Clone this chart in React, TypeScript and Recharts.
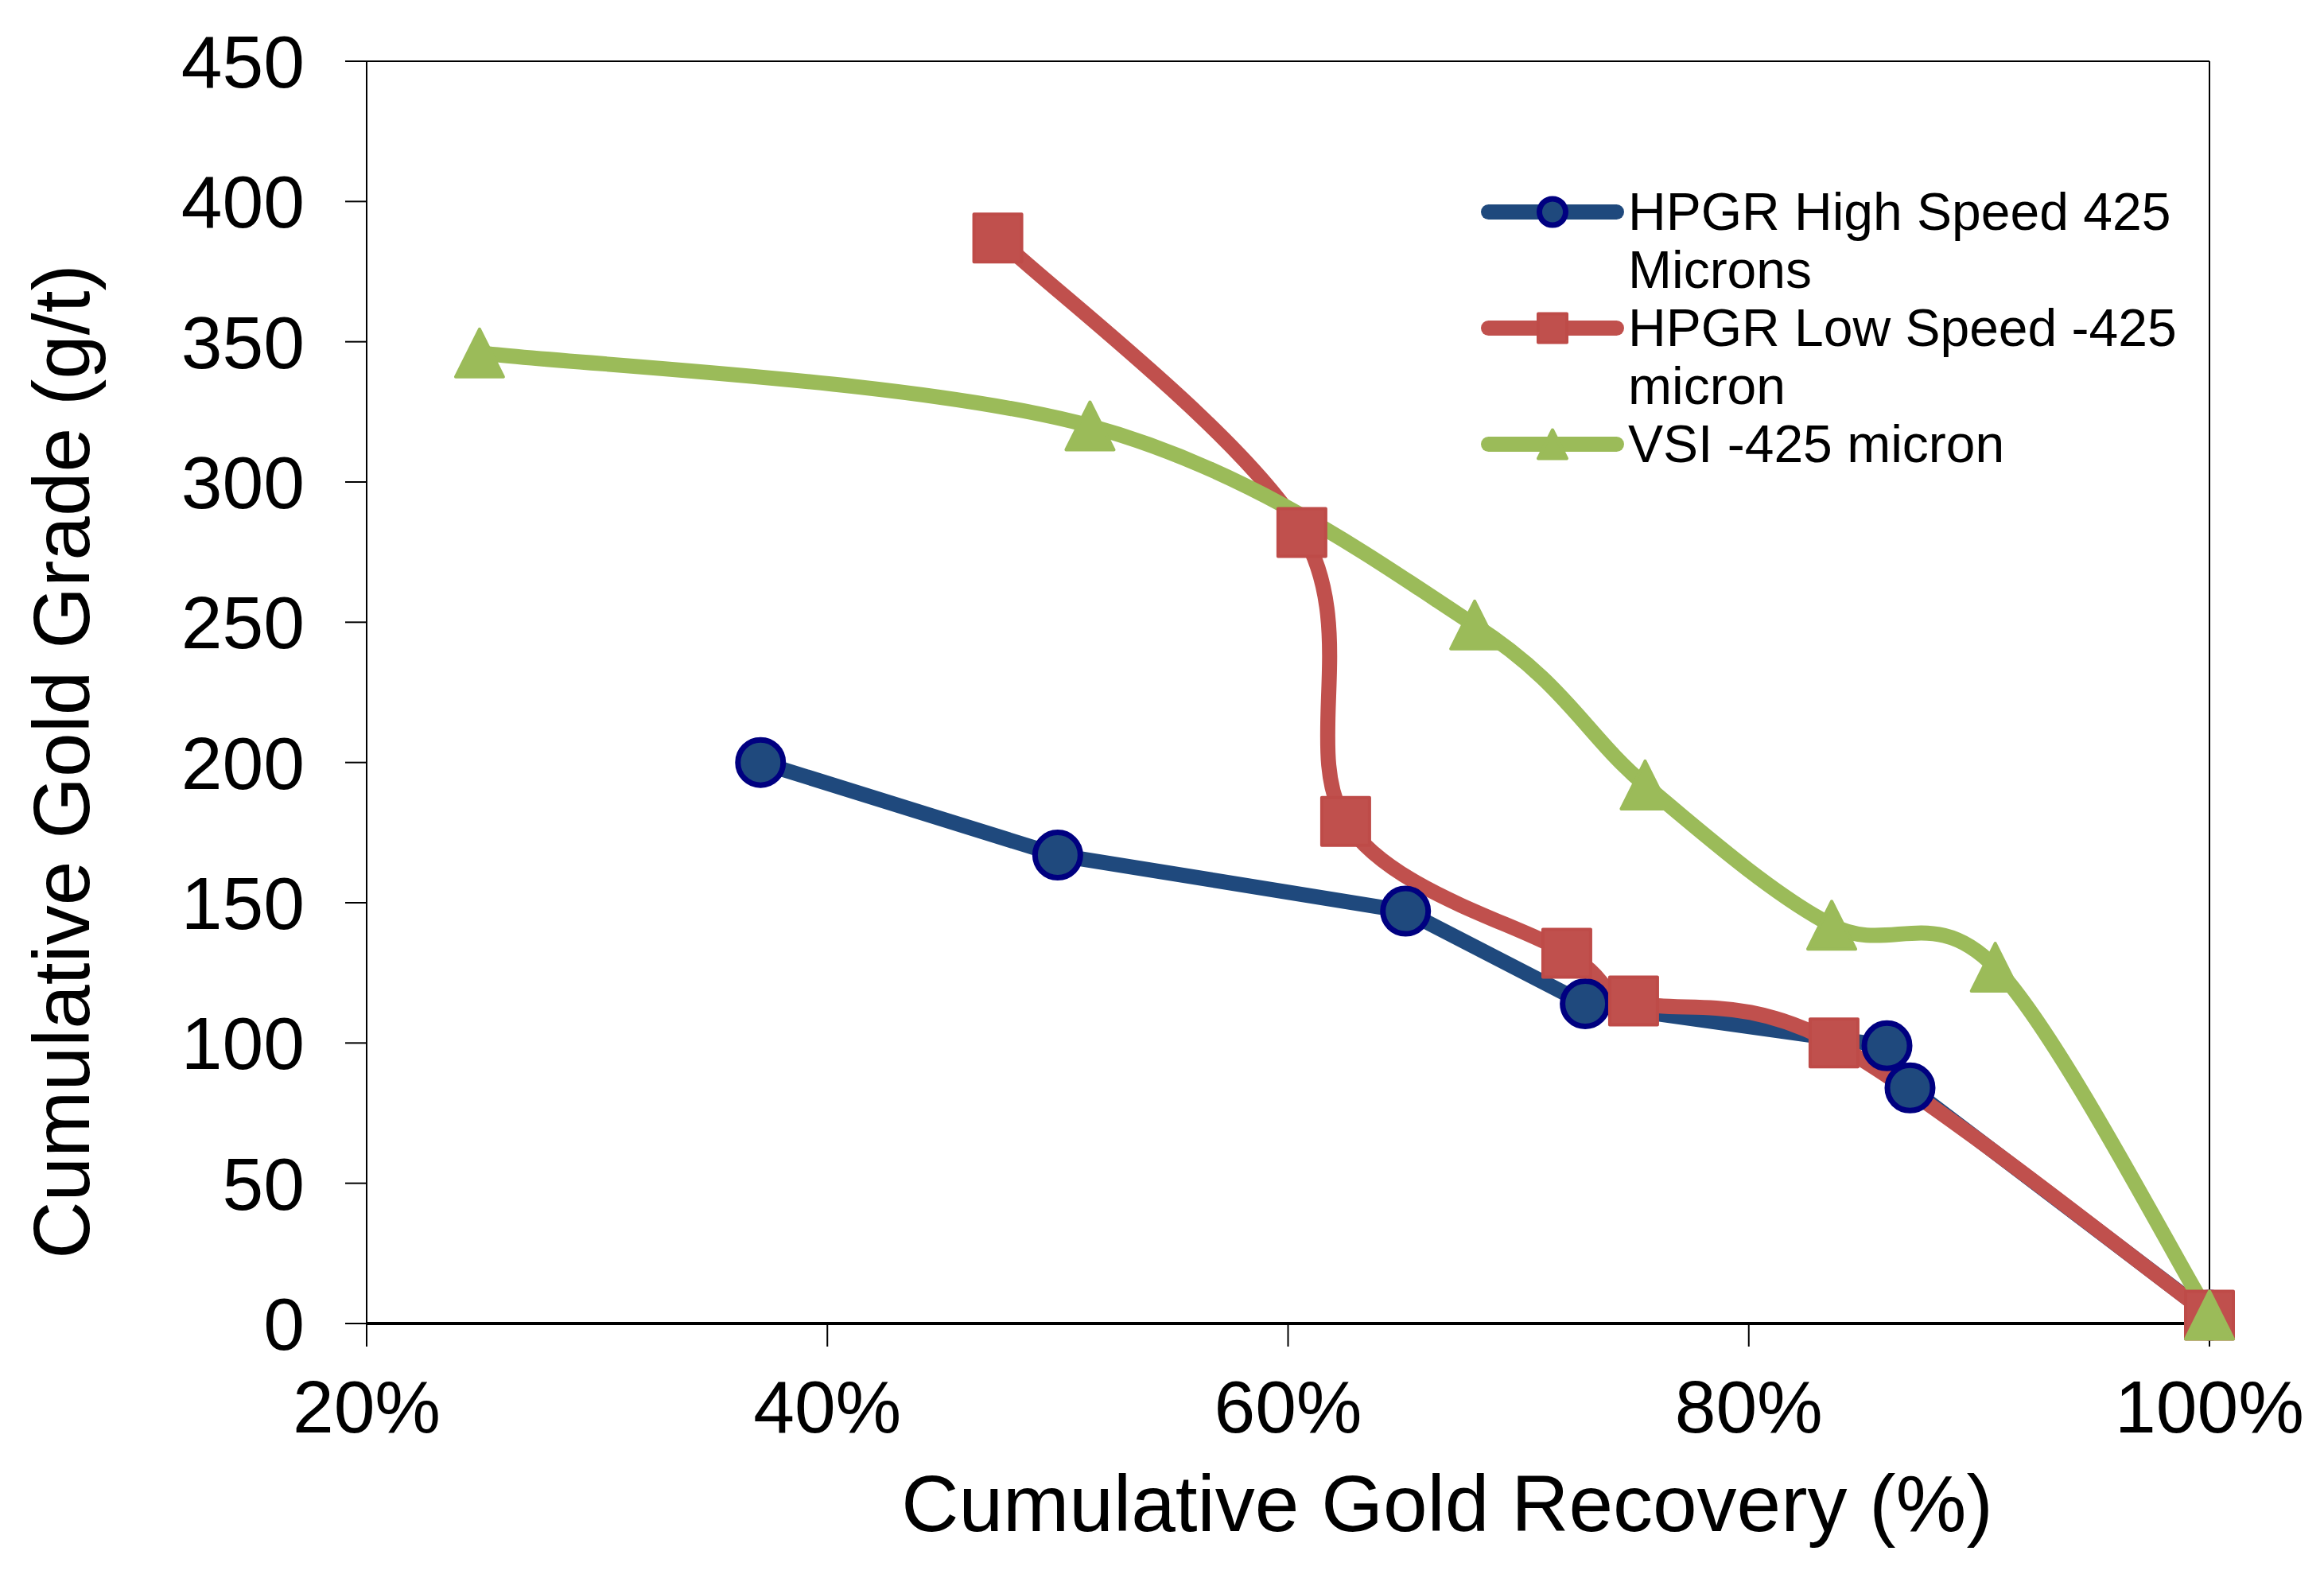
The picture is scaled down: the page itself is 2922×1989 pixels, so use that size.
import React from 'react';
import {
  LineChart,
  Line,
  XAxis,
  YAxis,
  Legend,
  Label,
  ReferenceLine,
} from 'recharts';

const FONT = '"Liberation Sans", Arial, sans-serif';

// values
const highSpeedRecovery = [37.1, 50.0, 65.1, 72.9, 86.0, 87.0, 100];
const highSpeedGrade = [200, 167, 147, 114, 99, 84, 3];
const lowSpeedRecovery = [47.4, 60.6, 62.5, 72.1, 75.0, 83.7, 100];
const lowSpeedGrade = [387, 282, 179, 132, 115, 100, 3];
const vsiRecovery = [24.9, 51.4, 68.1, 75.5, 83.6, 90.7, 100];
const vsiGrade = [346, 320, 249, 192, 142, 127, 3];

const xTicks = [20, 40, 60, 80, 100];
const yTicks = [0, 50, 100, 150, 200, 250, 300, 350, 400, 450];

const toRows = (xs: number[], ys: number[]) => xs.map((x, i) => ({ x, y: ys[i] }));

// Excel-like smoothed line (Catmull-Rom through the points)
const excelSmooth = (context: any) => {
  let pts: [number, number][] = [];
  return {
    areaStart() {},
    areaEnd() {},
    lineStart() {
      pts = [];
    },
    point(x: number, y: number) {
      pts.push([+x, +y]);
    },
    lineEnd() {
      if (!pts.length) return;
      context.moveTo(pts[0][0], pts[0][1]);
      for (let i = 0; i < pts.length - 1; i++) {
        const p0 = pts[i - 1] || pts[i];
        const p1 = pts[i];
        const p2 = pts[i + 1];
        const p3 = pts[i + 2] || p2;
        context.bezierCurveTo(
          p1[0] + (p2[0] - p0[0]) / 6,
          p1[1] + (p2[1] - p0[1]) / 6,
          p2[0] - (p3[0] - p1[0]) / 6,
          p2[1] - (p3[1] - p1[1]) / 6,
          p2[0],
          p2[1]
        );
      }
    },
  };
};

const series = [
  { name: 'HPGR High Speed 425 Microns', data: toRows(highSpeedRecovery, highSpeedGrade), color: '#1F497D', marker: 'circle', curve: 'linear' as any },
  { name: 'HPGR Low Speed -425 micron', data: toRows(lowSpeedRecovery, lowSpeedGrade), color: '#C0504D', marker: 'square', curve: excelSmooth as any },
  { name: 'VSI -425 micron', data: toRows(vsiRecovery, vsiGrade), color: '#9BBB59', marker: 'triangle', curve: excelSmooth as any },
];

const Marker = ({ kind, cx, cy, size, color }: any) => {
  const h = size / 2;
  if (kind === 'circle') {
    return <circle cx={cx} cy={cy} r={h - 3.5} fill={color} stroke="#000080" strokeWidth={7} />;
  }
  if (kind === 'square') {
    return (
      <rect x={cx - h + 2} y={cy - h + 2} width={size - 4} height={size - 4}
        fill={color} stroke="#BE4B48" strokeWidth={4} strokeLinejoin="round" />
    );
  }
  return (
    <polygon
      points={`${cx},${cy - h + 2} ${cx + h - 2},${cy + h - 2} ${cx - h + 2},${cy + h - 2}`}
      fill={color} stroke={color} strokeWidth={4} strokeLinejoin="round" />
  );
};

const renderDot = (kind: string, color: string) => (props: any) => {
  if (props.cx == null || props.cy == null) return <g key={`d${props.index}`} />;
  return (
    <g key={`d${props.index}`}>
      <Marker kind={kind} cx={props.cx} cy={props.cy} size={64} color={color} />
    </g>
  );
};

const renderLegend = () => (
  <div style={{ fontFamily: FONT, color: '#000' }}>
    {series.map(s => (
      <div key={s.name} style={{ display: 'flex', alignItems: 'flex-start' }}>
        <svg width={180} height={73} style={{ flex: 'none' }}>
          <line x1={9.5} y1={36.5} x2={170.5} y2={36.5} stroke={s.color} strokeWidth={19} strokeLinecap="round" />
          <Marker kind={s.marker} cx={90} cy={36.5} size={40} color={s.color} />
        </svg>
        <div style={{ marginLeft: 5, width: 720, fontSize: 66, lineHeight: '73px' }}>{s.name}</div>
      </div>
    ))}
  </div>
);

const XTitle = (props: any) => {
  const vb = props.viewBox || { x: 461, y: 1664, width: 2317, height: 325 };
  return (
    <text x={vb.x + vb.width / 2 + 200} y={vb.y + 261} textAnchor="middle"
      fontSize={100} fill="#000" fontFamily={FONT}>
      Cumulative Gold Recovery (%)
    </text>
  );
};

const YTitle = (props: any) => {
  const vb = props.viewBox || { x: 0, y: 77, width: 461, height: 1587 };
  const x = vb.x + 112;
  const y = vb.y + vb.height / 2 + 87;
  return (
    <text x={x} y={y} transform={`rotate(-90, ${x}, ${y})`} textAnchor="middle"
      fontSize={100} fill="#000" fontFamily={FONT}>
      Cumulative Gold Grade (g/t)
    </text>
  );
};

const tickStyle = { fontSize: 93, fill: '#000', fontFamily: FONT };

export default function App() {
  return (
    <div style={{ width: 2922, height: 1989, background: '#fff' }}>
      <style>{'body{margin:0}'}</style>
      <LineChart width={2922} height={1989} margin={{ top: 77, right: 144, bottom: 0, left: 0 }}>
        <XAxis
          type="number"
          dataKey="x"
          domain={[20, 100]}
          ticks={xTicks}
          tickFormatter={(v: number) => `${v}%`}
          height={325}
          tick={tickStyle}
          tickSize={29}
          tickMargin={42}
          axisLine={{ stroke: '#000', strokeWidth: 4 }}
          tickLine={{ stroke: '#000', strokeWidth: 2 }}
        >
          <Label content={XTitle} />
        </XAxis>
        <YAxis
          type="number"
          domain={[0, 450]}
          ticks={yTicks}
          width={461}
          tick={tickStyle}
          tickSize={27}
          tickMargin={51}
          axisLine={{ stroke: '#000', strokeWidth: 2 }}
          tickLine={{ stroke: '#000', strokeWidth: 2 }}
        >
          <Label content={YTitle} />
        </YAxis>
        <ReferenceLine y={450} stroke="#000" strokeWidth={2} />
        <ReferenceLine x={100} stroke="#000" strokeWidth={2} />
        <Legend
          layout="vertical"
          align="center"
          verticalAlign="middle"
          content={renderLegend}
          wrapperStyle={{ position: 'absolute', left: 1862, top: 230, width: 920, height: 'auto' }}
        />
        {series.map(s => (
          <Line
            key={s.name}
            name={s.name}
            data={s.data}
            dataKey="y"
            type={s.curve}
            stroke={s.color}
            strokeWidth={19}
            strokeLinecap="round"
            strokeLinejoin="round"
            dot={renderDot(s.marker, s.color)}
            activeDot={false}
            isAnimationActive={false}
          />
        ))}
      </LineChart>
    </div>
  );
}
